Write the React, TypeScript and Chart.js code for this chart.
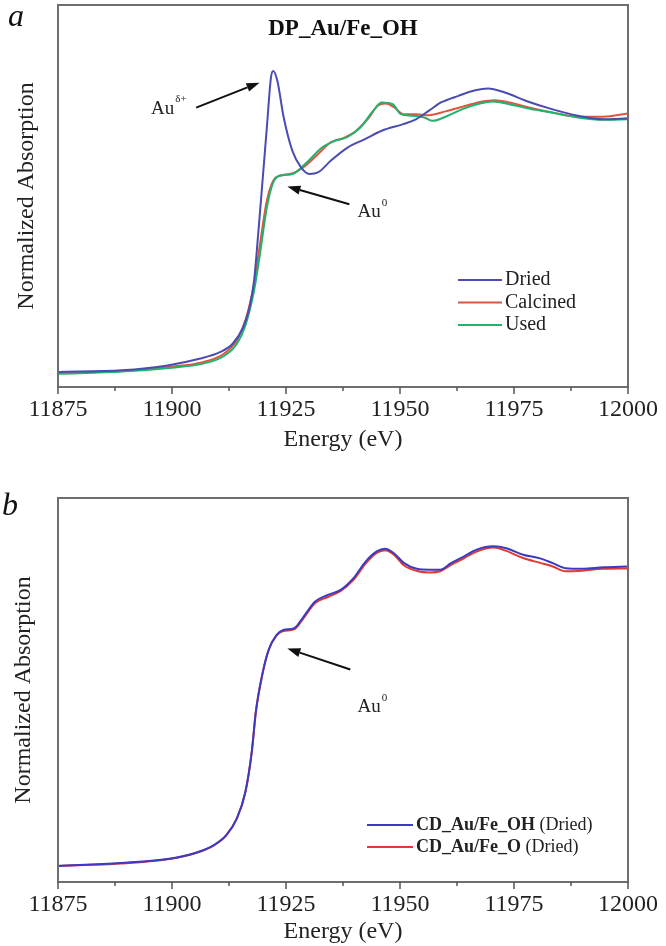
import React, { useEffect, useRef } from 'react';
import { Chart, registerables } from 'chart.js';

Chart.register(...registerables);

const SERIF = '"Liberation Serif", "Times New Roman", Times, serif';

// ---------- x axis ----------
const X_MIN = 11875;
const X_MAX = 12000;
const X_MAJOR = 25;
const X_MINOR = 12.5;

// ---------- panel a: DP_Au/Fe_OH ----------
const A_TITLE = 'DP_Au/Fe_OH';
const A_LABELS = ['Dried', 'Calcined', 'Used'];

const A_DRIED_E = [11875, 11889, 11899, 11906, 11910.5, 11913.3, 11915.6, 11917, 11918, 11918.9, 11919.8, 11920.8, 11921.7, 11922.2, 11923.1, 11924.5, 11926.4, 11928.3, 11930.1, 11932, 11934.8, 11938.5, 11942.3, 11946, 11950.7, 11953.5, 11956.3, 11959, 11962.8, 11966.5, 11969.3, 11973, 11977.7, 11983.3, 11989, 11994.6, 12000];
const A_DRIED_Y = [0, 0.007, 0.026, 0.052, 0.078, 0.111, 0.176, 0.255, 0.359, 0.542, 0.739, 0.961, 1.157, 1.183, 1.144, 1.0, 0.869, 0.804, 0.778, 0.784, 0.83, 0.882, 0.915, 0.948, 0.974, 0.993, 1.026, 1.059, 1.085, 1.107, 1.114, 1.098, 1.065, 1.033, 1.007, 0.993, 0.997];

const A_CALC_E = [11875, 11889, 11899.3, 11906.8, 11911.4, 11914.2, 11916.1, 11918, 11919.4, 11920.8, 11922.2, 11923.6, 11926.4, 11929.2, 11932, 11934.8, 11937.6, 11940.4, 11943.2, 11945.1, 11946.9, 11948.8, 11950.7, 11953.5, 11956.3, 11960, 11963.7, 11967.5, 11970.8, 11974, 11978.7, 11983.3, 11989, 11994.6, 12000];
const A_CALC_Y = [-0.004, 0.004, 0.02, 0.039, 0.072, 0.124, 0.203, 0.346, 0.516, 0.673, 0.752, 0.771, 0.78, 0.81, 0.856, 0.902, 0.919, 0.948, 1.0, 1.046, 1.055, 1.039, 1.013, 1.013, 1.009, 1.024, 1.042, 1.061, 1.068, 1.059, 1.037, 1.02, 1.003, 1.003, 1.016];

const A_USED_E = [11875, 11889, 11899.3, 11906.8, 11911.4, 11914.2, 11916.1, 11918, 11919.4, 11920.8, 11922.2, 11923.6, 11926.4, 11929.2, 11932.9, 11935.7, 11938.5, 11941.3, 11944.1, 11946, 11948.4, 11950.2, 11952.5, 11955.3, 11957.2, 11960, 11963.7, 11967.5, 11970.3, 11974, 11978.7, 11983.3, 11989, 11994.6, 12000];
const A_USED_Y = [-0.007, 0.002, 0.016, 0.033, 0.063, 0.11, 0.183, 0.32, 0.477, 0.647, 0.745, 0.771, 0.778, 0.817, 0.882, 0.908, 0.924, 0.961, 1.026, 1.059, 1.052, 1.013, 1.007, 1.0, 0.987, 1.003, 1.033, 1.055, 1.063, 1.052, 1.033, 1.02, 1.0, 0.991, 0.993];

// ---------- panel b: CD samples ----------
const B_LABELS_BOLD = ['CD_Au/Fe_OH', 'CD_Au/Fe_O'];
const B_LABELS_REG = [' (Dried)', ' (Dried)'];

const B_E = [11875, 11888.7, 11899.8, 11905.4, 11909.1, 11911.9, 11914.2, 11916.1, 11917.5, 11918.4, 11919.8, 11921.2, 11922.9, 11924.4, 11926.8, 11928.6, 11931.4, 11934.2, 11937, 11939.8, 11942.5, 11944.9, 11946.7, 11948.6, 11950.9, 11953.7, 11956.5, 11958.8, 11961.2, 11964, 11966.8, 11970.5, 11973.3, 11977, 11980.7, 11983.5, 11986.3, 11990, 11994.6, 12000];
const B_OH_Y = [0, 0.01, 0.025, 0.045, 0.069, 0.103, 0.158, 0.247, 0.381, 0.515, 0.638, 0.721, 0.771, 0.788, 0.794, 0.827, 0.883, 0.905, 0.922, 0.961, 1.017, 1.05, 1.059, 1.045, 1.011, 0.992, 0.989, 0.989, 1.011, 1.033, 1.056, 1.067, 1.061, 1.039, 1.027, 1.011, 0.994, 0.992, 0.997, 1.0];
const B_O_Y = [0, 0.008, 0.024, 0.044, 0.068, 0.102, 0.158, 0.248, 0.383, 0.517, 0.64, 0.722, 0.769, 0.784, 0.79, 0.822, 0.878, 0.898, 0.918, 0.955, 1.01, 1.045, 1.054, 1.04, 1.003, 0.985, 0.98, 0.984, 1.005, 1.027, 1.05, 1.063, 1.052, 1.028, 1.012, 1.0, 0.984, 0.986, 0.992, 0.993];

// ---------- annotations (data units) ----------
const A_NOTES = [
  { x: 11895.4, y: 1.035, base: 'Au', sup: 'δ+', from: [11905.3, 1.039], to: [11919.2, 1.137] },
  { x: 11940.7, y: 0.627, base: 'Au', sup: '0', from: [11938.9, 0.659], to: [11925.3, 0.729] },
];
const B_NOTES = [
  { x: 11940.7, y: 0.532, base: 'Au', sup: '0', from: [11939.1, 0.656], to: [11925.3, 0.726] },
];

const pts = (xs: number[], ys: number[]) => xs.map((x, i) => ({ x, y: ys[i] }));

function drawArrow(ctx: CanvasRenderingContext2D, x1: number, y1: number, x2: number, y2: number) {
  const ang = Math.atan2(y2 - y1, x2 - x1);
  const hl = 13, hw = 4.5;
  const bx = x2 - hl * Math.cos(ang), by = y2 - hl * Math.sin(ang);
  ctx.strokeStyle = '#111';
  ctx.fillStyle = '#111';
  ctx.lineWidth = 2;
  ctx.beginPath();
  ctx.moveTo(x1, y1);
  ctx.lineTo(bx, by);
  ctx.stroke();
  ctx.beginPath();
  ctx.moveTo(x2, y2);
  ctx.lineTo(bx + hw * Math.sin(ang), by - hw * Math.cos(ang));
  ctx.lineTo(bx - hw * Math.sin(ang), by + hw * Math.cos(ang));
  ctx.closePath();
  ctx.fill();
}

type PanelCfg = {
  letter: string;
  letterPos: [number, number];
  title?: string;
  notes: typeof A_NOTES;
  legend: { color: string; bold?: string; text: string }[];
  legendX: number;
  legendLine: number;
  legendY: number;
  legendGap: number;
  legendFont: number;
};

function decorPlugin(cfg: PanelCfg) {
  return {
    id: 'decor',
    afterDraw(chart: any) {
      const { ctx, chartArea: ca, scales } = chart;
      const xs = scales.x, ys = scales.y;
      ctx.save();
      ctx.strokeStyle = '#6e6e6e';
      ctx.lineWidth = 2;
      ctx.strokeRect(ca.left, ca.top, ca.right - ca.left, ca.bottom - ca.top);
      ctx.strokeStyle = '#555';
      ctx.lineWidth = 1.5;
      for (let v = X_MIN; v <= X_MAX + 1e-6; v += X_MINOR) {
        const px = xs.getPixelForValue(v);
        const k = (v - X_MIN) / X_MAJOR;
        const major = Math.abs(k - Math.round(k)) < 1e-6;
        ctx.beginPath();
        ctx.moveTo(px, ca.bottom);
        ctx.lineTo(px, ca.bottom + (major ? 7 : 4));
        ctx.stroke();
      }
      ctx.fillStyle = '#111';
      ctx.font = `italic 32px ${SERIF}`;
      ctx.textAlign = 'left';
      ctx.textBaseline = 'middle';
      ctx.fillText(cfg.letter, cfg.letterPos[0], cfg.letterPos[1]);
      if (cfg.title) {
        ctx.font = `bold 23px ${SERIF}`;
        ctx.textAlign = 'center';
        ctx.fillText(cfg.title, (ca.left + ca.right) / 2, ca.top + 24);
      }
      for (const n of cfg.notes) {
        drawArrow(ctx, xs.getPixelForValue(n.from[0]), ys.getPixelForValue(n.from[1]), xs.getPixelForValue(n.to[0]), ys.getPixelForValue(n.to[1]));
        const tx = xs.getPixelForValue(n.x), ty = ys.getPixelForValue(n.y);
        ctx.fillStyle = '#222';
        ctx.textAlign = 'left';
        ctx.textBaseline = 'middle';
        ctx.font = `19px ${SERIF}`;
        ctx.fillText(n.base, tx, ty);
        const w = ctx.measureText(n.base).width;
        ctx.font = `11px ${SERIF}`;
        ctx.fillText(n.sup, tx + w + 1, ty - 9);
      }
      const lx0 = ca.right - cfg.legendX;
      for (let i = 0; i < cfg.legend.length; i++) {
        const it = cfg.legend[i];
        const y = ca.bottom - cfg.legendY + i * cfg.legendGap;
        ctx.strokeStyle = it.color;
        ctx.lineWidth = 2;
        ctx.beginPath();
        ctx.moveTo(lx0, y);
        ctx.lineTo(lx0 + cfg.legendLine, y);
        ctx.stroke();
        let tx = lx0 + cfg.legendLine + 3;
        ctx.fillStyle = '#222';
        ctx.textAlign = 'left';
        ctx.textBaseline = 'middle';
        if (it.bold) {
          ctx.font = `bold ${cfg.legendFont}px ${SERIF}`;
          ctx.fillText(it.bold, tx, y);
          tx += ctx.measureText(it.bold).width;
        }
        ctx.font = `${cfg.legendFont}px ${SERIF}`;
        ctx.fillText(it.text, tx, y);
      }
      ctx.restore();
    },
  };
}

function makeConfig(
  datasets: any[],
  yMin: number,
  yMax: number,
  layoutTop: number,
  xHeight: number,
  yTitlePad: number,
  xTitlePadBottom: number,
  cfg: PanelCfg
) {
  return {
    type: 'line',
    data: { datasets },
    options: {
      animation: false,
      responsive: false,
      events: [],
      layout: { padding: { left: 0, right: 38, top: layoutTop, bottom: 0 } },
      elements: { point: { radius: 0 }, line: { borderWidth: 2, cubicInterpolationMode: 'monotone' } },
      plugins: { legend: { display: false }, tooltip: { enabled: false }, title: { display: false } },
      scales: {
        x: {
          type: 'linear',
          min: X_MIN,
          max: X_MAX,
          grid: { display: false, drawTicks: false },
          border: { display: false },
          ticks: {
            stepSize: X_MAJOR,
            autoSkip: false,
            maxRotation: 0,
            padding: 8,
            color: '#222',
            font: { family: SERIF, size: 24 },
            callback: (v: number) => String(v),
          },
          title: {
            display: true,
            text: 'Energy (eV)',
            color: '#222',
            font: { family: SERIF, size: 24, lineHeight: 1.2 },
            padding: { top: 0, bottom: xTitlePadBottom },
          },
          afterFit: (s: any) => {
            s.height = xHeight;
          },
        },
        y: {
          type: 'linear',
          min: yMin,
          max: yMax,
          grid: { display: false, drawTicks: false },
          border: { display: false },
          ticks: { display: false },
          title: {
            display: true,
            text: 'Normalized Absorption',
            color: '#222',
            font: { family: SERIF, size: 24, lineHeight: 1.2 },
            padding: { top: yTitlePad, bottom: 0 },
          },
          afterFit: (s: any) => {
            s.width = 58;
          },
        },
      },
    },
    plugins: [decorPlugin(cfg)],
  };
}

function Panel({ height, build }: { height: number; build: () => any }) {
  const ref = useRef<HTMLCanvasElement | null>(null);
  useEffect(() => {
    if (!ref.current) return;
    const chart = new Chart(ref.current, build());
    return () => chart.destroy();
  }, []);
  return <canvas ref={ref} width={666} height={height} style={{ display: 'block', width: 666, height }} />;
}

const TOP_COLORS = ['#4b4bb4', '#e0553f', '#1fb36e'];
const BOT_COLORS = ['#3a3ac4', '#e23a30'];

export default function App() {
  const buildTop = () =>
    makeConfig(
      [
        { label: A_LABELS[0], data: pts(A_DRIED_E, A_DRIED_Y), borderColor: TOP_COLORS[0] },
        { label: A_LABELS[2], data: pts(A_USED_E, A_USED_Y), borderColor: TOP_COLORS[2] },
        { label: A_LABELS[1], data: pts(A_CALC_E, A_CALC_Y), borderColor: TOP_COLORS[1] },
      ],
      -0.0588,
      1.442,
      5,
      83,
      12,
      16,
      {
        letter: 'a',
        letterPos: [8, 18],
        title: A_TITLE,
        notes: A_NOTES,
        legend: A_LABELS.map((t, i) => ({ color: TOP_COLORS[i], text: t })),
        legendX: 170,
        legendLine: 44,
        legendY: 107,
        legendGap: 22.5,
        legendFont: 20,
      }
    );
  const buildBottom = () =>
    makeConfig(
      [
        { label: B_LABELS_BOLD[0], data: pts(B_E, B_OH_Y), borderColor: BOT_COLORS[0] },
        { label: B_LABELS_BOLD[1], data: pts(B_E, B_O_Y), borderColor: BOT_COLORS[1] },
      ],
      -0.0535,
      1.2285,
      28,
      64,
      9,
      0,
      {
        letter: 'b',
        letterPos: [2, 37],
        notes: B_NOTES,
        legend: B_LABELS_BOLD.map((b, i) => ({ color: BOT_COLORS[i], bold: b, text: B_LABELS_REG[i] })),
        legendX: 261,
        legendLine: 46,
        legendY: 57,
        legendGap: 22,
        legendFont: 18,
      }
    );
  return (
    <div style={{ position: 'absolute', left: 0, top: 0, width: 666, height: 946, background: '#fff' }}>
      <Panel height={470} build={buildTop} />
      <Panel height={476} build={buildBottom} />
    </div>
  );
}
